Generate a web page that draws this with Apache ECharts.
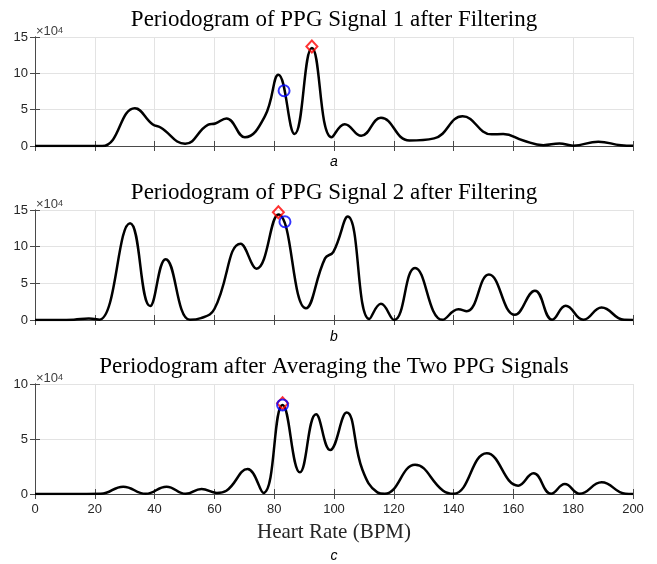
<!DOCTYPE html>
<html>
<head>
    <meta charset="utf-8">
    <title>Periodogram</title>
    <script src="https://cdn.jsdelivr.net/npm/echarts@6/dist/echarts.min.js"></script>
    <style>
        html, body { margin: 0; padding: 0; background: #fff; }
        #chart { width: 657px; height: 564px; }
    </style>
</head>
<body>
<div id="chart"></div>
<script type="text/javascript">

    // 心率 (BPM) 与功率 (x10^4)，按图读取的峰谷点
    var bpm1 = [0, 12, 22.5, 33.4, 39.3, 42, 50.2, 57.8, 60.3, 64, 70.2, 76.9, 81.4, 86.8, 92.6, 99.2, 103.6, 109.1, 115.7, 125.2, 133.5, 143, 152.7, 156.6, 163.3, 170, 175.4, 180, 188.4, 196, 200];
    var pow1 = [0, 0, 0, 5.2, 3.0, 2.55, 0.3, 2.9, 3.1, 3.8, 1.2, 4.1, 9.8, 1.65, 13.5, 1.2, 3.0, 1.4, 3.9, 0.75, 1.05, 4.1, 1.6, 1.65, 0.75, 0.12, 0.35, 0.05, 0.6, 0.1, 0.03];

    var bpm2 = [0, 8, 13, 18, 21.5, 31.8, 38.5, 43.7, 51.8, 55.5, 60, 68.8, 74.1, 81.4, 90.6, 97, 99.8, 104.6, 111.8, 115.7, 120.1, 127.1, 136.3, 141.6, 144.4, 151.8, 160.5, 167.2, 173, 177.5, 183.4, 189.5, 197, 200];
    var pow2 = [0, 0, 0.05, 0.2, 0.05, 13.2, 1.9, 8.3, 0.02, 0.25, 1.5, 10.4, 7.0, 14.4, 1.6, 8.4, 9.3, 14.1, 0.15, 2.2, 0, 7.1, 0.02, 1.45, 1.2, 6.2, 0.7, 4.0, 0.05, 1.95, 0.02, 1.7, 0.02, 0];

    var bpm3 = [0, 12, 22, 29.5, 37, 44, 50.4, 55.7, 60.8, 64, 71.1, 76.4, 82.8, 88.6, 94, 98.7, 104.2, 109.5, 114.5, 117, 127.1, 136.5, 140, 151.1, 161.6, 166.7, 172.6, 177.2, 182.2, 189.5, 197.5, 200];
    var pow3 = [0, 0, 0.02, 0.67, 0.02, 0.67, 0.02, 0.45, 0.1, 0.3, 2.27, 0.1, 8.1, 1.97, 7.25, 4.0, 7.4, 2.2, 0.15, 0.02, 2.65, 0.3, 0.02, 3.7, 0.76, 1.88, 0.02, 0.9, 0.02, 1.06, 0.02, 0];

    // 标记点：红色菱形 / 蓝色圆圈
    var diamondPts = [[92.6, 13.7], [81.4, 14.7], [82.8, 8.25]];
    var circlePts = [[83.3, 7.6], [83.6, 13.4], [82.8, 8.1]];

    var titles = ['Periodogram of PPG Signal 1 after Filtering', 'Periodogram of PPG Signal 2 after Filtering', 'Periodogram after Averaging the Two PPG Signals'];
    var subLabels = ['a', 'b', 'c'];
    var yMax = [15, 15, 10];

    var gridTops = [37, 210, 384];
    var gridH = [109, 110, 110];
    var labelY = [162, 337, 556];
    var axisColor = '#4a4a4a';

    function pairs(xs, ys) {
        var out = [];
        for (var i = 0; i < xs.length; i++) out.push([xs[i], ys[i]]);
        return out;
    }
    var curves = [pairs(bpm1, pow1), pairs(bpm2, pow2), pairs(bpm3, pow3)];

    var myChart = echarts.init(document.getElementById('chart'));

    var grid = [], xAxis = [], yAxis = [], series = [], graphic = [];
    for (var k = 0; k < 3; k++) {
        grid.push({left: 35, width: 598, top: gridTops[k], height: gridH[k]});
        var showX = k === 2;
        xAxis.push({
            type: 'value', gridIndex: k, min: 0, max: 200, interval: 20,
            axisLine: {lineStyle: {color: axisColor, width: 1}},
            axisTick: {inside: true, length: 5, lineStyle: {color: axisColor}},
            axisLabel: {show: showX, color: '#262626', fontSize: 13, fontFamily: 'Liberation Sans', margin: 9},
            splitLine: {show: true, lineStyle: {color: '#e3e3e3', width: 1}}
        });
        xAxis.push({
            type: 'value', gridIndex: k, min: 0, max: 200, interval: 20, position: 'top',
            axisLine: {show: true, lineStyle: {color: axisColor, width: 1}},
            axisTick: {inside: true, length: 5, lineStyle: {color: axisColor}},
            axisLabel: {show: false}, splitLine: {show: false}
        });
        yAxis.push({
            type: 'value', gridIndex: k, min: 0, max: yMax[k], interval: 5,
            axisLine: {show: true, lineStyle: {color: axisColor, width: 1}},
            axisTick: {show: true, inside: true, length: 5, lineStyle: {color: axisColor}},
            axisLabel: {color: '#262626', fontSize: 13, fontFamily: 'Liberation Sans', margin: 7},
            splitLine: {show: true, lineStyle: {color: '#e3e3e3', width: 1}}
        });
        yAxis.push({
            type: 'value', gridIndex: k, min: 0, max: yMax[k], interval: 5, position: 'right',
            axisLine: {show: true, lineStyle: {color: axisColor, width: 1}},
            axisTick: {show: true, inside: true, length: 5, lineStyle: {color: axisColor}},
            axisLabel: {show: false}, splitLine: {show: false}
        });
        series.push({
            type: 'line', xAxisIndex: 2 * k, yAxisIndex: 2 * k,
            data: curves[k], smooth: 0.45, showSymbol: false,
            lineStyle: {color: '#000', width: 2.5}, z: 3
        });
        series.push({
            type: 'scatter', xAxisIndex: 2 * k, yAxisIndex: 2 * k,
            data: [diamondPts[k]], symbol: 'diamond', symbolSize: [11, 12],
            itemStyle: {color: 'rgba(0,0,0,0)', borderColor: '#ff0000', borderWidth: 2}, z: 4
        });
        series.push({
            type: 'scatter', xAxisIndex: 2 * k, yAxisIndex: 2 * k,
            data: [circlePts[k]], symbol: 'circle', symbolSize: 11,
            itemStyle: {color: 'rgba(0,0,0,0)', borderColor: '#0000ff', borderWidth: 2}, z: 5
        });
        graphic.push({
            type: 'text', x: 334, y: gridTops[k] - 17,
            style: {text: titles[k], font: '23px "Liberation Serif"', fill: '#000', textAlign: 'center', textVerticalAlign: 'middle'}
        });
        // 指数标签 x10^4
        graphic.push({
            type: 'text', x: 36, y: gridTops[k] - 13,
            style: {
                text: '{a|×10}{b|4}',
                rich: {
                    a: {fontSize: 13, fontFamily: 'Liberation Sans', fill: '#404040', verticalAlign: 'bottom', height: 14},
                    b: {fontSize: 9, fontFamily: 'Liberation Sans', fill: '#404040', verticalAlign: 'top', height: 14}
                }
            }
        });
        graphic.push({
            type: 'text', x: 334, y: labelY[k],
            style: {text: subLabels[k], font: 'italic 14px "Liberation Sans"', fill: '#000', textAlign: 'center', textVerticalAlign: 'middle'}
        });
    }
    graphic.push({
        type: 'text', x: 334, y: 532,
        style: {text: 'Heart Rate (BPM)', font: '21px "Liberation Serif"', fill: '#262626', textAlign: 'center', textVerticalAlign: 'middle'}
    });

    myChart.setOption({
        animation: false,
        grid: grid,
        xAxis: xAxis,
        yAxis: yAxis,
        series: series,
        graphic: graphic
    });

</script>
</body>
</html>
